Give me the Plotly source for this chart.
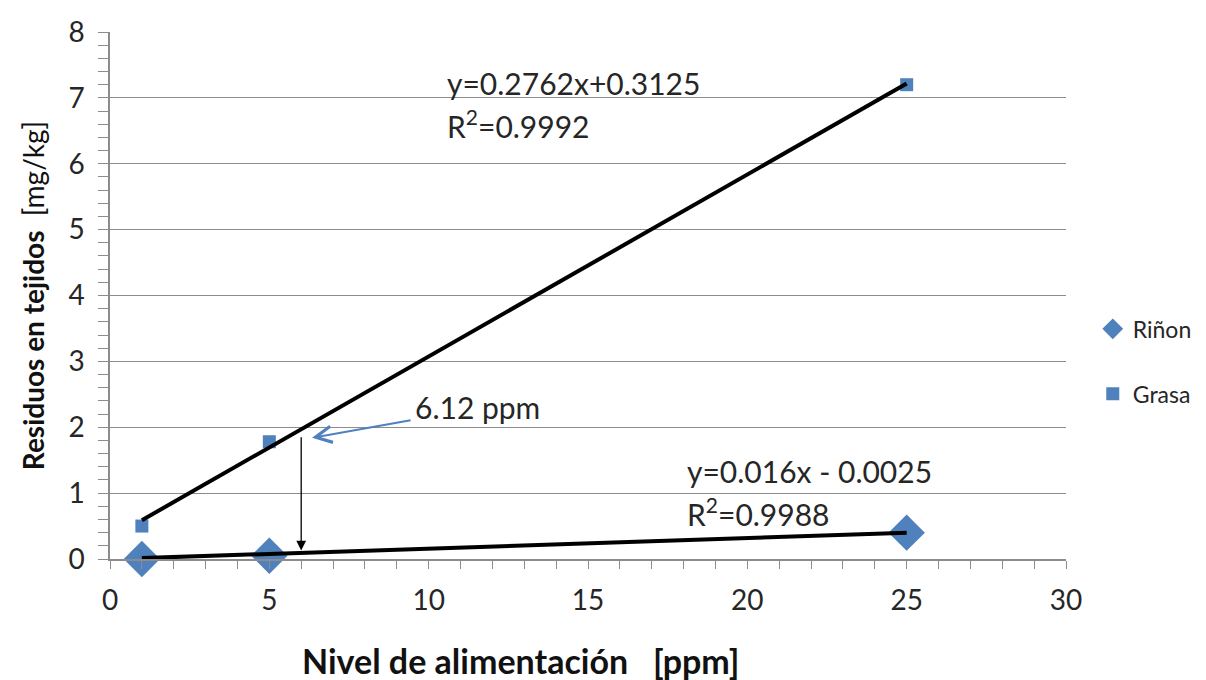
import plotly.graph_objects as go

# Data
nivel = [1, 5, 25]
rinon = [0.0, 0.05, 0.40]
grasa = [0.50, 1.78, 7.20]

# Trend-line coefficients (as labelled on the chart)
grasa_fit = [0.2762, 0.3125]
rinon_fit = [0.016, -0.0025]
fit_x = [1, 25]

x_ticks = [0, 5, 10, 15, 20, 25, 30]
y_ticks = [0, 1, 2, 3, 4, 5, 6, 7, 8]

BLUE = "#4F81BD"
GRID = "#8C8C8C"
FONT = "Lato"
TXT = "#262626"

fig = go.Figure()
fig.add_trace(go.Scatter(x=nivel, y=rinon, mode="markers", name="Riñon",
                         legendgroup="a", cliponaxis=False,
                         marker=dict(symbol="diamond", size=28, color=BLUE)))
fig.add_trace(go.Scatter(x=nivel, y=grasa, mode="markers", name="Grasa",
                         legendgroup="b", cliponaxis=False,
                         marker=dict(symbol="square", size=13, color=BLUE)))

for fit in (grasa_fit, rinon_fit):
    fig.add_trace(go.Scatter(x=fit_x, y=[fit[0] * v + fit[1] for v in fit_x],
                             mode="lines", showlegend=False, hoverinfo="skip",
                             cliponaxis=False,
                             line=dict(color="black", width=4)))

EQ = dict(size=30, color=TXT, family=FONT)
ann = [
    dict(x=10.5, y=7.22, xref="x", yref="y", text="y=0.2762x+0.3125",
         showarrow=False, xanchor="left", yanchor="middle", font=EQ),
    dict(x=10.5, y=6.61, xref="x", yref="y", text="R<sup>2</sup>=0.9992",
         showarrow=False, xanchor="left", yanchor="middle", font=EQ),
    dict(x=18.05, y=1.33, xref="x", yref="y", text="y=0.016x - 0.0025",
         showarrow=False, xanchor="left", yanchor="middle", font=EQ),
    dict(x=18.05, y=0.72, xref="x", yref="y", text="R<sup>2</sup>=0.9988",
         showarrow=False, xanchor="left", yanchor="middle", font=EQ),
    dict(x=9.5, y=2.30, xref="x", yref="y", text="6.12 ppm",
         showarrow=False, xanchor="left", yanchor="middle", font=EQ),
    # blue arrow
    dict(x=6.34, y=1.84, ax=9.48, ay=2.11, xref="x", yref="y",
         axref="x", ayref="y", text="", showarrow=True,
         arrowhead=5, arrowsize=1.6, arrowwidth=2, arrowcolor=BLUE),
    # black vertical arrow
    dict(x=6.0, y=0.13, ax=6.0, ay=1.87, xref="x", yref="y",
         axref="x", ayref="y", text="", showarrow=True,
         arrowhead=2, arrowsize=1.5, arrowwidth=1.3, arrowcolor="black"),
    # x-axis title (offset left of the plot centre as in the original)
    dict(x=0.43, y=-0.192, xref="paper", yref="paper",
         text="<b>Nivel de alimentación   [ppm]</b>", showarrow=False,
         xanchor="center", yanchor="middle",
         font=dict(size=34, color="#111111", family=FONT)),
]

fig.update_layout(
    width=1206, height=680,
    margin=dict(l=110, r=140, t=32, b=121, autoexpand=False),
    paper_bgcolor="white", plot_bgcolor="white",
    font=dict(family=FONT, color=TXT),
    annotations=ann,
    legend=dict(x=1.028, y=0.375, xanchor="left", yanchor="middle",
                font=dict(size=23, family=FONT, color=TXT),
                tracegroupgap=32, itemsizing="trace"),
    xaxis=dict(range=[0, 30], tickvals=x_ticks, showgrid=False,
               showline=True, linecolor=GRID, linewidth=1.5,
               ticks="outside", ticklen=8, tickcolor=GRID,
               ticklabelstandoff=8,
               minor=dict(dtick=1, ticks="outside", ticklen=8, tickcolor=GRID),
               tickfont=dict(size=28, color=TXT), zeroline=False),
    yaxis=dict(range=[0, 8], tickvals=y_ticks, showgrid=True,
               gridcolor=GRID, gridwidth=1.2,
               showline=True, linecolor=GRID, linewidth=1.5,
               ticks="outside", ticklen=10, tickcolor=GRID,
               ticklabelstandoff=8,
               minor=dict(dtick=0.2, ticks="outside", ticklen=10,
                          tickcolor=GRID, showgrid=False),
               tickfont=dict(size=28, color=TXT), zeroline=False,
               title=dict(text="<b>Residuos en tejidos</b>  [mg/kg]",
                          font=dict(size=28, color="#111111"), standoff=16)),
)

fig.write_html("out.html")
